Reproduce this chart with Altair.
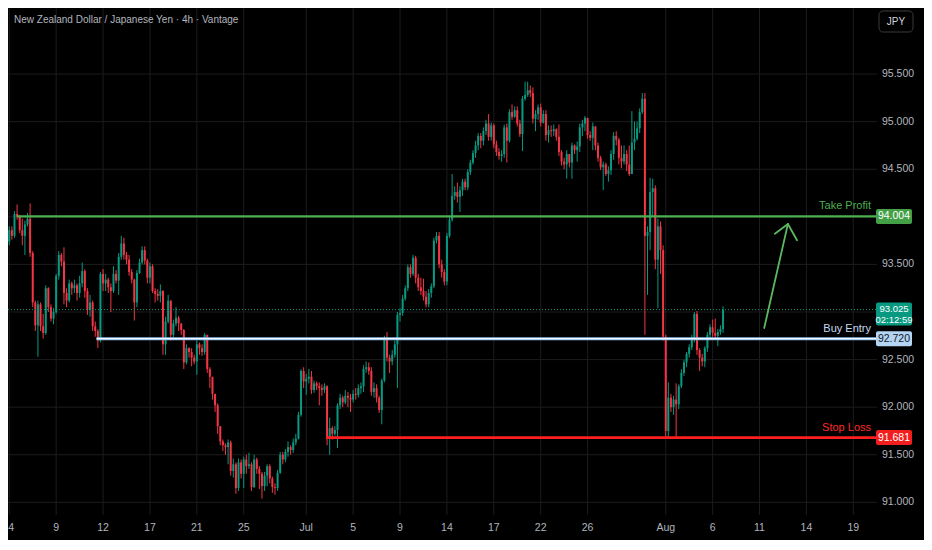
import altair as alt
import pandas as pd

# ---------------- data ----------------
title_text = "New Zealand Dollar / Japanese Yen · 4h · Vantage"
currency = "JPY"

first_open = 93.74
closes = [
    93.86, 93.80, 94.03, 94.00, 93.86, 93.80, 93.92, 93.98, 93.62, 93.10,
    92.86, 93.08, 92.85, 92.78, 93.25, 93.05, 92.93, 93.00, 93.38, 93.60,
    93.53, 93.20, 93.12, 93.30, 93.25, 93.28, 93.20, 93.30, 93.43, 93.22,
    93.02, 93.10, 92.85, 92.80, 92.70, 93.40, 93.30, 93.34, 93.26, 93.22,
    93.40, 93.33, 93.58, 93.72, 93.60, 93.55, 93.42, 93.34, 93.10, 93.41,
    93.52, 93.65, 93.54, 93.36, 93.48, 93.22, 93.19, 93.17, 93.22, 92.66,
    92.90, 93.12, 92.76, 92.88, 92.94, 92.88, 92.81, 92.47, 92.62, 92.58,
    92.52, 92.48, 92.66, 92.62, 92.58, 92.76, 92.40, 92.32, 92.14, 92.02,
    91.80, 91.64, 91.60, 91.58, 91.63, 91.33, 91.40, 91.15, 91.42, 91.30,
    91.45, 91.38, 91.40, 91.16, 91.45, 91.35, 91.30, 91.17, 91.28, 91.38,
    91.25, 91.16, 91.15, 91.31, 91.50, 91.45, 91.53, 91.58, 91.55, 91.63,
    91.67, 91.92, 92.38, 92.27, 92.30, 92.32, 92.18, 92.25, 92.22, 92.20,
    92.18, 92.22, 91.68, 91.78, 91.72, 91.76, 92.02, 92.10, 92.05, 92.12,
    92.10, 92.08, 92.14, 92.13, 92.20, 92.22, 92.40, 92.42, 92.38, 92.16,
    92.20, 92.10, 91.97, 92.28, 92.72, 92.52, 92.48, 92.55, 92.66, 92.97,
    92.99, 93.14, 93.25, 93.47, 93.40, 93.57, 93.36, 93.26, 93.22, 93.16,
    93.08, 93.20, 93.27, 93.75, 93.80, 93.50, 93.42, 93.32, 93.80, 93.97,
    94.22, 94.26, 94.21, 94.28, 94.37, 94.31, 94.47, 94.57, 94.67, 94.75,
    94.85, 94.80, 94.90, 94.98, 94.84, 94.96, 94.76, 94.68, 94.64, 94.66,
    94.94, 94.80, 95.10, 95.05, 95.12, 94.98, 94.87, 95.24, 95.28, 95.33,
    95.30, 95.03, 95.08, 95.15, 94.99, 95.08, 94.86, 94.91, 94.90, 94.92,
    94.84, 94.68, 94.58, 94.55, 94.66, 94.57, 94.75, 94.70, 94.74, 94.94,
    94.98, 95.04, 94.86, 94.83, 94.95, 94.75, 94.62, 94.52, 94.55, 94.45,
    94.49, 94.66, 94.85, 94.81, 94.62, 94.58, 94.66, 94.55, 94.45, 94.78,
    94.82, 94.93, 95.10, 95.24, 93.80, 93.84, 94.26, 94.30, 93.55, 93.90,
    93.65, 92.74, 91.75, 92.10, 92.00, 92.08, 92.03, 92.22, 92.36, 92.47,
    92.56, 92.63, 92.72, 92.98, 92.60, 92.52, 92.48, 92.62, 92.76, 92.84,
    92.78, 92.75, 92.79, 92.82, 93.025,
]
highs = [
    93.90, 93.90, 94.06, 94.13, 94.02, 93.98, 93.96, 94.04, 94.14, 93.64,
    93.12, 93.12, 93.10, 92.98, 93.28, 93.26, 93.08, 93.04, 93.40, 93.64,
    93.62, 93.68, 93.25, 93.34, 93.32, 93.34, 93.30, 93.38, 93.52, 93.45,
    93.25, 93.18, 93.12, 92.90, 92.82, 93.42, 93.45, 93.40, 93.36, 93.30,
    93.48, 93.44, 93.62, 93.80, 93.78, 93.63, 93.60, 93.45, 93.35, 93.44,
    93.56, 93.69, 93.69, 93.56, 93.52, 93.50, 93.25, 93.24, 93.29, 93.23,
    92.95, 93.18, 93.12, 92.92, 93.05, 92.96, 92.88, 92.82, 92.66, 92.63,
    92.62, 92.55, 92.70, 92.68, 92.66, 92.78, 92.76, 92.42, 92.30, 92.14,
    92.04, 91.80, 91.66, 91.62, 91.66, 91.65, 91.46, 91.42, 91.46, 91.45,
    91.48, 91.50, 91.52, 91.42, 91.50, 91.47, 91.38, 91.32, 91.32, 91.40,
    91.40, 91.27, 91.20, 91.34, 91.53, 91.53, 91.56, 91.64, 91.60, 91.67,
    91.72, 91.95, 92.40, 92.42, 92.35, 92.40, 92.38, 92.28, 92.27, 92.26,
    92.24, 92.25, 92.23, 91.89, 91.80, 91.80, 92.04, 92.14, 92.12, 92.18,
    92.16, 92.14, 92.18, 92.20, 92.24, 92.26, 92.44, 92.48, 92.47, 92.42,
    92.26, 92.24, 92.12, 92.30, 92.75, 92.79, 92.55, 92.60, 92.70, 93.00,
    93.04, 93.18, 93.28, 93.50, 93.50, 93.60, 93.59, 93.40, 93.36, 93.35,
    93.22, 93.24, 93.30, 93.78, 93.84, 93.84, 93.55, 93.45, 93.83, 94.00,
    94.45, 94.32, 94.36, 94.32, 94.40, 94.40, 94.50, 94.60, 94.70, 94.80,
    94.88, 94.88, 94.94, 95.02, 95.08, 94.99, 94.98, 94.80, 94.72, 94.70,
    94.97, 94.98, 95.13, 95.18, 95.16, 95.16, 95.02, 95.27, 95.42, 95.42,
    95.38, 95.36, 95.12, 95.18, 95.19, 95.12, 95.12, 94.96, 94.96, 94.97,
    94.93, 94.97, 94.70, 94.62, 94.70, 94.66, 94.78, 94.76, 94.79, 94.98,
    95.02, 95.06, 95.04, 94.90, 94.99, 94.95, 94.78, 94.64, 94.58, 94.57,
    94.53, 94.70, 94.89, 94.90, 94.83, 94.75, 94.75, 94.70, 94.75, 95.11,
    95.00, 95.00, 95.14, 95.30, 95.30, 93.90, 94.41, 94.40, 94.33, 93.98,
    93.95, 93.70, 92.76, 92.26, 92.14, 92.12, 92.25, 92.24, 92.40, 92.50,
    92.58, 92.66, 92.76, 93.00, 93.01, 92.62, 92.56, 92.64, 92.79, 92.87,
    92.92, 92.93, 92.82, 92.86, 93.06,
]
lows = [
    93.70, 93.76, 93.78, 93.97, 93.83, 93.70, 93.60, 93.90, 93.58, 93.05,
    92.80, 92.53, 92.80, 92.72, 92.76, 93.00, 92.90, 92.87, 92.98, 93.34,
    93.48, 93.08, 93.05, 93.10, 93.18, 93.20, 93.12, 93.15, 93.26, 93.15,
    92.97, 92.95, 92.80, 92.74, 92.62, 92.68, 93.22, 93.22, 93.20, 93.00,
    93.20, 93.30, 93.18, 93.55, 93.55, 93.50, 93.38, 93.30, 92.91, 93.05,
    93.40, 93.50, 93.50, 93.30, 93.30, 93.20, 93.10, 93.12, 93.10, 92.55,
    92.55, 92.88, 92.70, 92.72, 92.85, 92.80, 92.76, 92.40, 92.45, 92.52,
    92.43, 92.45, 92.34, 92.55, 92.54, 92.55, 92.36, 92.20, 92.08, 91.95,
    91.72, 91.60, 91.54, 91.50, 91.40, 91.28, 91.26, 91.09, 91.12, 91.25,
    91.15, 91.30, 91.35, 91.12, 91.15, 91.30, 91.14, 91.04, 91.12, 91.17,
    91.20, 91.10, 91.08, 91.12, 91.30, 91.40, 91.42, 91.48, 91.50, 91.52,
    91.60, 91.66, 91.90, 92.20, 92.13, 92.25, 92.14, 92.15, 92.18, 92.02,
    92.12, 92.15, 91.60, 91.50, 91.66, 91.70, 91.57, 91.98, 92.00, 92.03,
    92.00, 91.95, 92.05, 92.08, 92.10, 92.14, 92.16, 92.36, 92.34, 92.12,
    92.10, 92.05, 91.94, 91.82, 92.26, 92.48, 92.36, 92.44, 92.52, 92.20,
    92.90, 92.96, 93.12, 93.22, 93.36, 93.38, 93.30, 93.22, 93.18, 93.12,
    93.05, 93.05, 93.15, 93.25, 93.72, 93.46, 93.36, 93.28, 93.28, 93.78,
    93.95, 94.18, 94.15, 94.05, 94.22, 94.28, 94.28, 94.44, 94.55, 94.62,
    94.70, 94.72, 94.75, 94.86, 94.80, 94.80, 94.72, 94.64, 94.60, 94.58,
    94.62, 94.57, 94.78, 95.02, 95.04, 94.95, 94.84, 94.69, 95.22, 95.26,
    95.26, 94.98, 94.90, 95.02, 94.95, 94.98, 94.80, 94.78, 94.84, 94.85,
    94.80, 94.64, 94.54, 94.50, 94.40, 94.52, 94.40, 94.66, 94.58, 94.68,
    94.85, 94.90, 94.82, 94.80, 94.70, 94.70, 94.58, 94.49, 94.28, 94.43,
    94.37, 94.44, 94.60, 94.75, 94.55, 94.51, 94.55, 94.48, 94.43, 94.45,
    94.70, 94.80, 94.88, 95.08, 92.76, 93.18, 93.65, 94.00, 93.45, 93.04,
    93.40, 92.70, 91.68, 91.68, 91.95, 91.92, 91.69, 91.98, 92.20, 92.33,
    92.42, 92.52, 92.60, 92.68, 92.55, 92.38, 92.43, 92.42, 92.58, 92.72,
    92.74, 92.72, 92.64, 92.76, 92.78,
]

# time axis: candle index of each day label, and the label text
tick_index = [0, 18, 36, 54, 72, 90, 114, 132, 150, 168, 186, 204, 222, 252, 270, 288, 306, 324]
tick_labels = ["4", "9", "12", "17", "21", "25", "Jul", "5", "9", "14", "17", "22", "26",
               "Aug", "6", "11", "14", "19"]
# price grid, and the price labels that the reference actually shows
price_ticks = [91.0, 91.5, 92.0, 92.5, 93.0, 93.5, 94.0, 94.5, 95.0, 95.5]
price_labels = [91.0, 91.5, 92.0, 92.5, 93.5, 94.5, 95.0, 95.5]

# drawn levels
level_names = ["Take Profit", "Buy Entry", "Stop Loss"]
level_prices = [94.004, 92.720, 91.681]
level_start = [3.0, 33.5, 121.6]
level_colors = ["#4caf50", "#8fc0ee", "#ff1f1f"]
level_text_colors = ["#4caf50", "#c3daf2", "#ff2a2a"]
level_box_colors = ["#43a047", "#b3d4f3", "#f21d1d"]
level_box_text = ["#ffffff", "#131722", "#ffffff"]
level_widths = [2.2, 3.0, 2.8]

last_price = 93.025
countdown = "02:12:59"

# hand-drawn arrow (candle index, price)
arrow_x1 = [289.8, 293.9, 302.4]
arrow_y1 = [92.832, 93.822, 93.754]
arrow_x2 = [298.9, 298.9, 298.9]
arrow_y2 = [93.924, 93.924, 93.924]

# ---------------- styling ----------------
W, H = 869, 507
X_MIN, X_MAX = -0.49, 333.1
Y_MIN, Y_MAX = 90.867, 96.194
FONT = "Liberation Sans, Arial, sans-serif"
UP, DOWN = "#089981", "#f23645"
GRID = "#1c1c1c"
TXT = "#b2b5be"

opens = [first_open] + closes[:-1]
candles = pd.DataFrame({
    "i": list(range(len(closes))),
    "open": opens,
    "close": closes,
    "high": highs,
    "low": lows,
})
candles["dir"] = ["up" if c >= o else "down" for o, c in zip(opens, closes)]

xs = alt.Scale(domain=[X_MIN, X_MAX], nice=False, zero=False)
ys = alt.Scale(domain=[Y_MIN, Y_MAX], nice=False, zero=False)
col = alt.Color("dir:N", scale=alt.Scale(domain=["up", "down"], range=[UP, DOWN]), legend=None)

# ---- grid and axis labels, drawn through the same scales ----
xt = pd.DataFrame({"i": tick_index, "lab": tick_labels})
yt = pd.DataFrame({"p": price_ticks})
yl = pd.DataFrame({"p": price_labels, "lab": ["%.3f" % p for p in price_labels]})
x_grid = alt.Chart(xt).mark_rule(color=GRID, strokeWidth=1).encode(
    x=alt.X("i:Q", scale=xs, axis=None), y=alt.value(0), y2=alt.value(H))
y_grid = alt.Chart(yt).mark_rule(color=GRID, strokeWidth=1).encode(
    y=alt.Y("p:Q", scale=ys, axis=None), x=alt.value(0), x2=alt.value(W))
x_first = alt.Chart(xt.iloc[:1]).mark_text(align="left", baseline="middle", fontSize=10.5,
                                           font=FONT, color=TXT, dx=-1).encode(
    x=alt.X("i:Q", scale=xs, axis=None), y=alt.value(H + 13), text="lab:N")
x_labels = alt.Chart(xt.iloc[1:]).mark_text(align="center", baseline="middle", fontSize=10.5,
                                            font=FONT, color=TXT).encode(
    x=alt.X("i:Q", scale=xs, axis=None), y=alt.value(H + 13), text="lab:N")
y_labels = alt.Chart(yl).mark_text(align="left", baseline="middle", fontSize=10.5,
                                   font=FONT, color=TXT).encode(
    y=alt.Y("p:Q", scale=ys, axis=None), x=alt.value(W + 5), text="lab:N")

base = alt.Chart(candles)
wicks = base.mark_rule(strokeWidth=1).encode(
    x=alt.X("i:Q", scale=xs, axis=None),
    y=alt.Y("low:Q", scale=ys, axis=None),
    y2="high:Q",
    color=col,
)
bodies = base.mark_rule(strokeWidth=2).encode(
    x=alt.X("i:Q", scale=xs, axis=None),
    y=alt.Y("open:Q", scale=ys, axis=None),
    y2="close:Q",
    color=col,
)

levels = pd.DataFrame({
    "name": level_names, "price": level_prices, "start": level_start,
    "end": [X_MAX] * len(level_names), "color": level_colors,
    "tcolor": level_text_colors, "bcolor": level_box_colors,
    "btext": level_box_text, "w": level_widths,
    "label": ["%.3f" % p for p in level_prices],
})
lv = alt.Chart(levels)
level_lines = lv.mark_rule().encode(
    x=alt.X("start:Q", scale=xs, axis=None), x2="end:Q",
    y=alt.Y("price:Q", scale=ys, axis=None),
    color=alt.Color("color:N", scale=None),
    strokeWidth=alt.StrokeWidth("w:Q", scale=None),
)
buy_core = lv.transform_filter(alt.datum.name == "Buy Entry").mark_rule(
    strokeWidth=1.2, color="#f2f8ff").encode(
    x=alt.X("start:Q", scale=xs, axis=None), x2="end:Q",
    y=alt.Y("price:Q", scale=ys, axis=None),
)
level_text = lv.mark_text(align="right", baseline="middle", dy=-10, fontSize=11,
                          font=FONT).encode(
    x=alt.value(W - 6),
    y=alt.Y("price:Q", scale=ys, axis=None),
    text="name:N",
    color=alt.Color("tcolor:N", scale=None),
)
level_box = lv.mark_rect(yOffset=-7.5, y2Offset=7.5, cornerRadius=2).encode(
    x=alt.value(W - 1), x2=alt.value(W + 35),
    y=alt.Y("price:Q", scale=ys, axis=None), y2="price:Q",
    color=alt.Color("bcolor:N", scale=None),
)
level_box_text = lv.mark_text(align="center", baseline="middle", fontSize=10.5,
                              font=FONT).encode(
    x=alt.value(W + 17),
    y=alt.Y("price:Q", scale=ys, axis=None),
    text="label:N",
    color=alt.Color("btext:N", scale=None),
)

last = pd.DataFrame({"price": [last_price], "label": ["%.3f" % last_price], "cd": [countdown]})
lc = alt.Chart(last)
last_line = lc.mark_rule(strokeWidth=1, strokeDash=[1, 2], color=UP).encode(
    x=alt.value(0), x2=alt.value(W), y=alt.Y("price:Q", scale=ys, axis=None))
last_box = lc.mark_rect(yOffset=-7, y2Offset=16, cornerRadius=2, color=UP).encode(
    x=alt.value(W - 1), x2=alt.value(W + 35),
    y=alt.Y("price:Q", scale=ys, axis=None), y2="price:Q")
last_txt = lc.mark_text(align="center", baseline="middle", fontSize=9.5, font=FONT,
                        color="#ffffff", dy=-0.5).encode(
    x=alt.value(W + 17), y=alt.Y("price:Q", scale=ys, axis=None), text="label:N")
last_cd = lc.mark_text(align="center", baseline="middle", fontSize=9.5, font=FONT,
                       color="#ffffff", dy=10).encode(
    x=alt.value(W + 17), y=alt.Y("price:Q", scale=ys, axis=None), text="cd:N")

arrow = alt.Chart(pd.DataFrame({"x1": arrow_x1, "y1": arrow_y1, "x2": arrow_x2, "y2": arrow_y2})
                  ).mark_rule(strokeWidth=1.8, color="#5cb860", strokeCap="round").encode(
    x=alt.X("x1:Q", scale=xs, axis=None), y=alt.Y("y1:Q", scale=ys, axis=None),
    x2="x2:Q", y2="y2:Q")

head = pd.DataFrame({"t": [title_text], "c": [currency]})
hc = alt.Chart(head)
title = hc.mark_text(align="left", baseline="middle", fontSize=10, font=FONT,
                     color=TXT).encode(x=alt.value(6), y=alt.value(12), text="t:N")
jpy_box = hc.mark_rect(filled=False, stroke="#3a3a3a", strokeWidth=1, cornerRadius=4).encode(
    x=alt.value(W + 2), x2=alt.value(W + 36), y=alt.value(3), y2=alt.value(24))
jpy_txt = hc.mark_text(align="center", baseline="middle", fontSize=10, font=FONT,
                       color="#d1d4dc").encode(x=alt.value(W + 19), y=alt.value(13.5), text="c:N")

chart = alt.layer(
    x_grid, y_grid, wicks, bodies, last_line, level_lines, buy_core, arrow, level_text,
    x_first, x_labels, y_labels,
    level_box, level_box_text, last_box, last_txt, last_cd, title, jpy_box, jpy_txt,
).properties(
    width=W, height=H, background="#000000",
    padding={"left": 0, "top": 0, "right": 47, "bottom": 25},
    autosize=alt.AutoSizeParams(type="none"),
).configure_view(stroke=None)

chart.save("out.html", embed_options={"renderer": "svg", "actions": False})
